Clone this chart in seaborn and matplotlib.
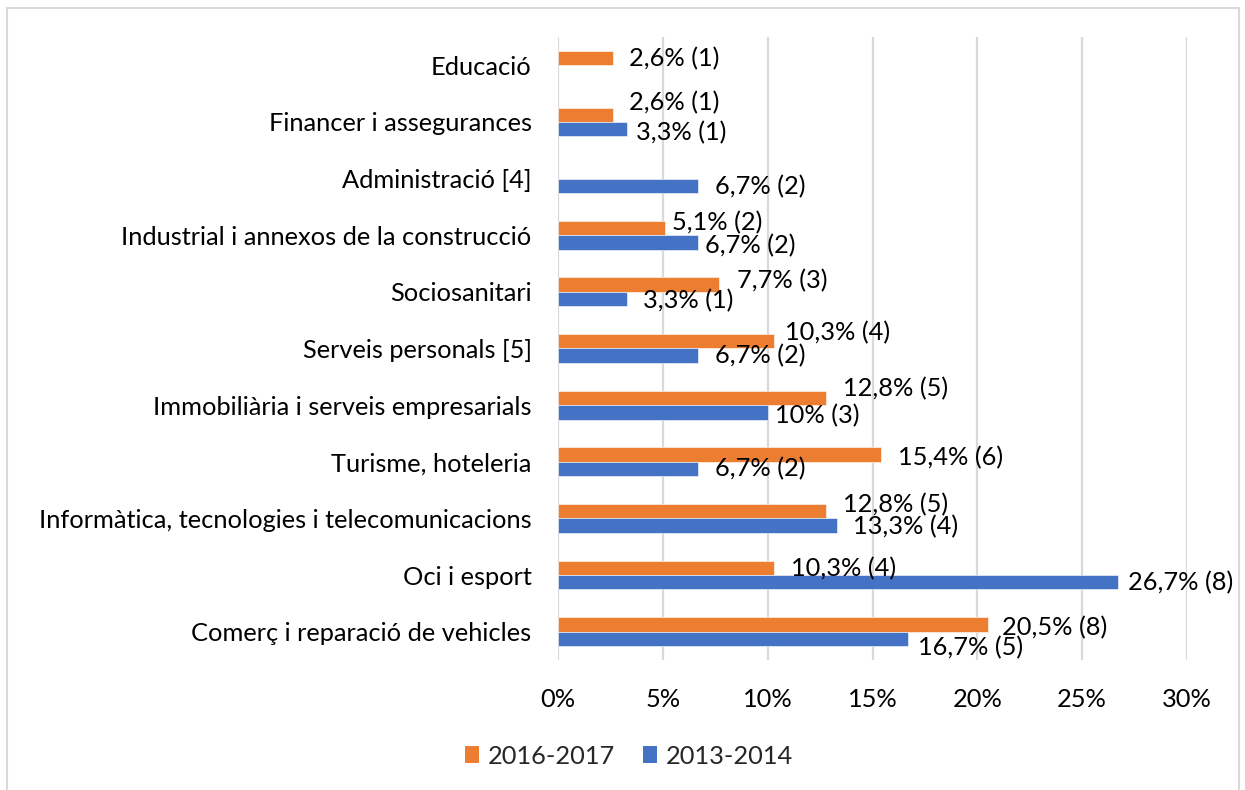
import numpy as np
import pandas as pd
import seaborn as sns
import matplotlib.pyplot as plt
from matplotlib.patches import Rectangle, Patch

categories = [
    "Educació",
    "Financer i assegurances",
    "Administració [4]",
    "Industrial i annexos de la construcció",
    "Sociosanitari",
    "Serveis personals [5]",
    "Immobiliària i serveis empresarials",
    "Turisme, hoteleria",
    "Informàtica, tecnologies i telecomunicacions",
    "Oci i esport",
    "Comerç i reparació de vehicles",
]
series = ["2016-2017", "2013-2014"]
pct_2016 = [2.6, 2.6, np.nan, 5.1, 7.7, 10.3, 12.8, 15.4, 12.8, 10.3, 20.5]
n_2016 = [1, 1, None, 2, 3, 4, 5, 6, 5, 4, 8]
pct_2013 = [np.nan, 3.3, 6.7, 6.7, 3.3, 6.7, 10.0, 6.7, 13.3, 26.7, 16.7]
n_2013 = [None, 1, 2, 2, 1, 2, 3, 2, 4, 8, 5]
x_ticks = [0, 5, 10, 15, 20, 25, 30]

# label nudges (pixels) to mimic the manually placed labels
dx_2016 = [16, 16, 0, 7, 18, 11, 17, 17, 17, 17, 14]
dy_2016 = [-1, 12, 0, 5, 4, 9, 9, -3, 7, -1, -3]
dx_2013 = [0, 9, 17, 7, 16, 17, 7, 17, 16, 10, 10]
dy_2013 = [0, -3, -1, -3, -2, 0, -3, 0, -1, 0, -9]

colors = {"2016-2017": "#ED7D31", "2013-2014": "#4472C4"}

rows = []
for s, pcts, ns in [(series[0], pct_2016, n_2016), (series[1], pct_2013, n_2013)]:
    for c, p, n in zip(categories, pcts, ns):
        if not np.isnan(p):
            rows.append({"Sector": c, "Percentatge": p, "Període": s, "n": n})
df = pd.DataFrame(rows)

sns.set_theme(style="white")
FONT = ["Lato", "DejaVu Sans"]
plt.rcParams["font.family"] = FONT
FS = 18.3

fig = plt.figure(figsize=(12.45, 7.9), dpi=100)
ax = fig.add_axes([558 / 1245, 1 - 660 / 790, (1187 - 558) / 1245, (660 - 37) / 790])

sns.barplot(
    data=df, y="Sector", x="Percentatge", hue="Període",
    order=categories, hue_order=series, palette=colors, saturation=1,
    orient="h", width=0.51, dodge=True, errorbar=None,
    ax=ax, legend=False, edgecolor="white", linewidth=0.4,
)

ax.set_xlim(0, 30)
ax.set_ylim(len(categories) - 0.5, -0.5)
ax.set_xticks(x_ticks)
ax.set_xticklabels([f"{t}%" for t in x_ticks])
ax.tick_params(axis="x", length=0, pad=20, labelsize=FS, colors="black")
ax.tick_params(axis="y", length=0, pad=19, labelsize=FS, colors="black")
ax.set_xlabel("")
ax.set_ylabel("")
for sp in ax.spines.values():
    sp.set_visible(False)
ax.grid(axis="x", color="#D9D9D9", linewidth=1.6)
ax.grid(axis="y", visible=False)
ax.set_axisbelow(True)

def fmt(p):
    s = f"{p:.1f}".replace(".", ",")
    if s.endswith(",0"):
        s = s[:-2]
    return s

label_data = {
    series[0]: (pct_2016, n_2016, dx_2016, dy_2016),
    series[1]: (pct_2013, n_2013, dx_2013, dy_2013),
}
for s, cont in zip(series, ax.containers):
    pcts, ns, dxs, dys = label_data[s]
    for bar in cont:
        w = bar.get_width()
        if not np.isfinite(w):
            continue
        yc = bar.get_y() + bar.get_height() / 2
        i = int(round(yc))
        ax.annotate(
            f"{fmt(pcts[i])}% ({ns[i]})",
            xy=(w, yc), xytext=(dxs[i], dys[i]), textcoords="offset pixels",
            ha="left", va="center", fontsize=FS, color="black",
            annotation_clip=False,
        )

handles = [Patch(facecolor=colors[s], edgecolor="none") for s in series]
fig.legend(
    handles, series, loc="center", bbox_to_anchor=(629 / 1245, 1 - 756 / 790),
    ncol=2, frameon=False, fontsize=FS, handlelength=0.55, handleheight=0.65,
    handletextpad=0.35, columnspacing=1.1,
)

fig.add_artist(Rectangle((7 / 1245, -0.01), (1239 - 7) / 1245, 1 - 8 / 790 + 0.01,
                         transform=fig.transFigure, fill=False,
                         edgecolor="#D9D9D9", linewidth=1.5))

fig.savefig("out.png", dpi=100, facecolor="white")
